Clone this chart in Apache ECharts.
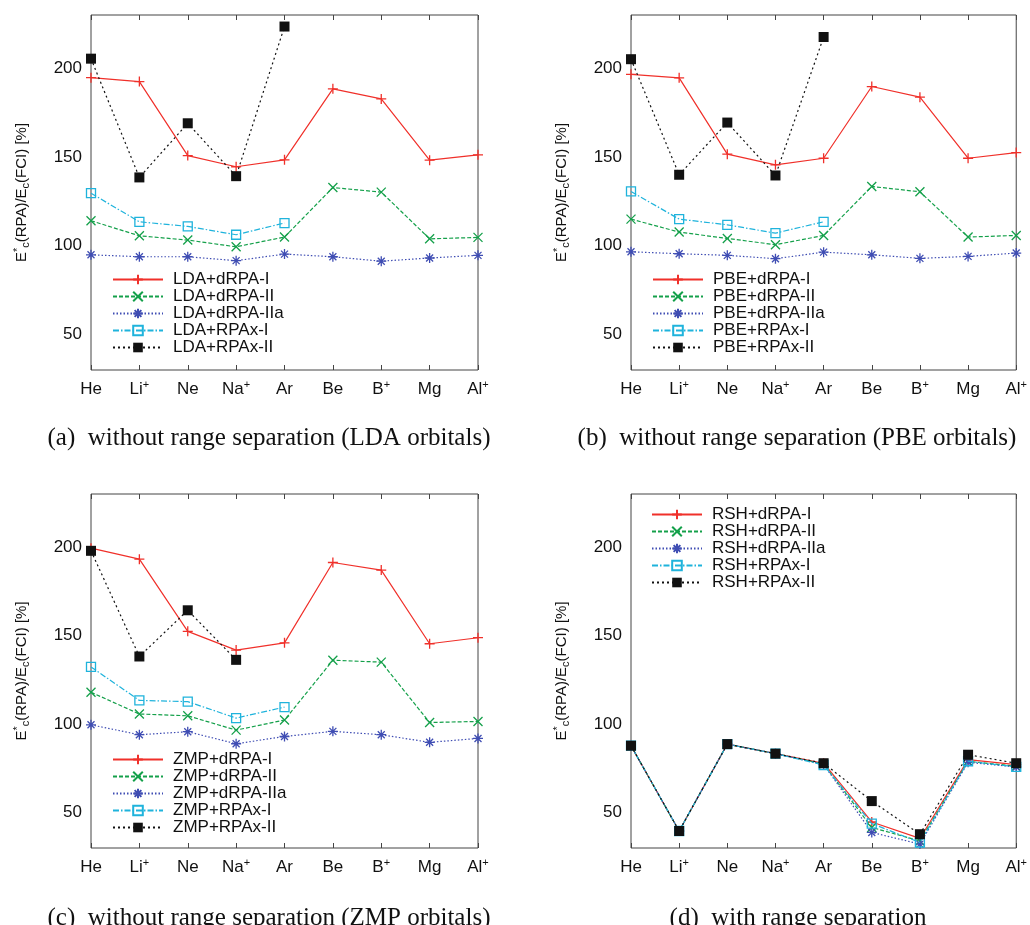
<!DOCTYPE html>
<html>
<head>
<meta charset="utf-8">
<script src="https://cdn.jsdelivr.net/npm/echarts@6/dist/echarts.min.js"></script>
<style>
  html, body { margin: 0; padding: 0; background: #fff; }
  #chart { width: 1030px; height: 925px; }
</style>
</head>
<body>
<div id="chart"></div>
<script>
  const categories = ['He', 'Li+', 'Ne', 'Na+', 'Ar', 'Be', 'B+', 'Mg', 'Al+']
  const yTicks = [50, 100, 150, 200]

  // (a) LDA orbitals
  const ldaDrpaI = [194.7, 192.5, 150.8, 144.5, 148.4, 188.4, 182.7, 148.2, 151.2]
  const ldaDrpaII = [114.1, 105.6, 103.2, 99.4, 104.9, 132.8, 130.2, 103.9, 104.7]
  const ldaDrpaIIa = [94.9, 93.8, 93.8, 91.6, 95.3, 93.8, 91.3, 93.1, 94.6]
  const ldaRpaxI = [129.6, 113.5, 110.9, 106.2, 112.8]
  const ldaRpaxII = [205.4, 138.5, 169.0, 139.2, 223.5]

  // (b) PBE orbitals
  const pbeDrpaI = [196.6, 194.6, 151.6, 145.6, 149.3, 189.7, 183.7, 149.3, 152.5]
  const pbeDrpaII = [115.0, 107.7, 104.1, 100.6, 105.8, 133.4, 130.4, 104.9, 105.8]
  const pbeDrpaIIa = [96.6, 95.5, 94.6, 92.7, 96.4, 94.9, 92.9, 94.0, 95.9]
  const pbeRpaxI = [130.6, 115.0, 111.8, 107.1, 113.5]
  const pbeRpaxII = [205.1, 140.0, 169.4, 139.6, 217.6]

  // (c) ZMP orbitals
  const zmpDrpaI = [199.4, 193.2, 152.4, 141.8, 145.9, 191.3, 187.0, 145.4, 148.8]
  const zmpDrpaII = [118.0, 105.7, 104.7, 96.6, 102.3, 136.1, 135.0, 100.9, 101.5]
  const zmpDrpaIIa = [99.6, 94.0, 95.7, 88.9, 93.0, 95.9, 94.0, 89.7, 91.9]
  const zmpRpaxI = [132.3, 113.4, 112.7, 103.4, 109.6]
  const zmpRpaxII = [197.9, 138.2, 164.3, 136.3]

  // (d) range separated
  const rshDrpaI = [87.8, 39.6, 88.7, 83.3, 77.9, 44.7, 35.4, 79.9, 77.1]
  const rshDrpaII = [87.8, 39.6, 88.7, 83.3, 77.4, 41.6, 34.0, 79.0, 76.2]
  const rshDrpaIIa = [87.8, 39.6, 88.7, 83.3, 77.2, 38.8, 32.2, 78.4, 75.8]
  const rshRpaxI = [87.8, 39.6, 88.7, 83.3, 76.9, 43.8, 33.1, 79.0, 75.8]
  const rshRpaxII = [87.8, 39.6, 88.7, 83.3, 77.9, 56.5, 37.8, 82.7, 77.9]

  const suffixes = ['+dRPA-I', '+dRPA-II', '+dRPA-IIa', '+RPAx-I', '+RPAx-II']

  const panels = [
    { prefix: 'LDA', data: [ldaDrpaI, ldaDrpaII, ldaDrpaIIa, ldaRpaxI, ldaRpaxII],
      caption: '(a)  without range separation (LDA orbitals)' },
    { prefix: 'PBE', data: [pbeDrpaI, pbeDrpaII, pbeDrpaIIa, pbeRpaxI, pbeRpaxII],
      caption: '(b)  without range separation (PBE orbitals)' },
    { prefix: 'ZMP', data: [zmpDrpaI, zmpDrpaII, zmpDrpaIIa, zmpRpaxI, zmpRpaxII],
      caption: '(c)  without range separation (ZMP orbitals)' },
    { prefix: 'RSH', data: [rshDrpaI, rshDrpaII, rshDrpaIIa, rshRpaxI, rshRpaxII],
      caption: '(d)  with range separation' }
  ]

  // layout in px
  const grids = [
    { left: 91, top: 15, width: 387, height: 355 },
    { left: 631, top: 15, width: 391, height: 355 },
    { left: 91, top: 494, width: 387, height: 354 },
    { left: 631, top: 494, width: 391, height: 354 }
  ]
  const legendPos = [
    { left: 112, top: 271 },
    { left: 652, top: 271 },
    { left: 112, top: 751 },
    { left: 651, top: 506 }
  ]
  const captionPos = [
    { left: 264, top: 421 },
    { left: 792, top: 421 },
    { left: 264, top: 901 },
    { left: 793, top: 901 }
  ]

  // gnuplot-like point types
  const PLUS = 'path://M5,0L5,10M0,5L10,5'
  const CROSS = 'path://M0,0L10,10M0,10L10,0'
  const STAR = 'path://M5,0L5,10M0,5L10,5M1.5,1.5L8.5,8.5M1.5,8.5L8.5,1.5'
  const SQUARE = 'path://M0,0L10,0L10,10L0,10Z'

  const styles = [
    { color: '#f0302a', type: 'solid', symbol: PLUS, size: 10 },
    { color: '#14a04a', type: [4, 2], symbol: CROSS, size: 9 },
    { color: '#3f4db3', type: [1.5, 2], symbol: STAR, size: 10 },
    { color: '#1fb3dc', type: [6, 2, 1.5, 2], symbol: SQUARE, size: 9 },
    { color: '#111111', type: [2, 3], symbol: 'rect', size: 10, filled: true }
  ]

  const frameColor = '#444'
  const sans = 'Liberation Sans'

  function catLabel(v) {
    return v.endsWith('+') ? '{b|' + v.slice(0, -1) + '}{sup|+}' : '{b|' + v + '}'
  }

  let grid = [], xAxis = [], yAxis = [], series = [], legend = [], title = []

  panels.forEach((p, i) => {
    grid.push(Object.assign({ show: true, borderColor: frameColor, borderWidth: 1 }, grids[i]))

    // bottom axis with labels, top mirror with ticks only
    xAxis.push({
      type: 'category', gridIndex: i, data: categories, boundaryGap: false, position: 'bottom',
      axisLine: { show: false },
      axisTick: { inside: true, length: 5, lineStyle: { color: frameColor } },
      splitLine: { show: false },
      axisLabel: {
        interval: 0, margin: 9, formatter: catLabel,
        rich: {
          b: { fontFamily: sans, fontSize: 17, color: '#111', lineHeight: 20 },
          sup: { fontFamily: sans, fontSize: 11, color: '#111', verticalAlign: 'top', lineHeight: 20, padding: [0, 0, 8, 0] }
        }
      }
    })
    xAxis.push({
      type: 'category', gridIndex: i, data: categories, boundaryGap: false, position: 'top',
      axisLine: { show: false },
      axisTick: { inside: true, length: 5, interval: 0, lineStyle: { color: frameColor } },
      axisLabel: { show: false, interval: 0 }, splitLine: { show: false }
    })

    yAxis.push({
      type: 'value', gridIndex: i, min: 30, max: 230, position: 'left',
      axisLine: { show: false },
      axisTick: { inside: true, length: 5, customValues: yTicks, lineStyle: { color: frameColor } },
      axisLabel: { customValues: yTicks, fontFamily: sans, fontSize: 17, color: '#111', margin: 9 },
      splitLine: { show: false },
      name: 'E{sup|*}{sub|c}(RPA)/E{sub|c}(FCI) [%]',
      nameLocation: 'middle', nameRotate: 90, nameGap: 60,
      nameTextStyle: {
        fontFamily: sans, fontSize: 15, color: '#111',
        rich: {
          sup: { fontFamily: sans, fontSize: 11, color: '#111', verticalAlign: 'top', padding: [0, 0, 8, 0] },
          sub: { fontFamily: sans, fontSize: 11, color: '#111', verticalAlign: 'bottom', padding: [6, 0, 0, 0] }
        }
      }
    })
    yAxis.push({
      type: 'value', gridIndex: i, min: 30, max: 230, position: 'right',
      axisLine: { show: false },
      axisTick: { inside: true, length: 5, customValues: yTicks, lineStyle: { color: frameColor } },
      axisLabel: { show: false, customValues: yTicks },
      splitLine: { show: false }
    })

    const names = suffixes.map(s => p.prefix + s)
    p.data.forEach((d, k) => {
      const st = styles[k]
      series.push({
        name: names[k], type: 'line', xAxisIndex: 2 * i, yAxisIndex: 2 * i,
        data: d,
        symbol: st.symbol, symbolSize: st.size, showAllSymbol: true,
        lineStyle: { color: st.color, width: 1.2, type: st.type },
        itemStyle: {
          color: st.filled ? st.color : 'rgba(0,0,0,0)',
          borderColor: st.color, borderWidth: st.filled ? 0 : 1.3
        },
        emphasis: { disabled: true },
        z: 2 + k
      })
    })

    legend.push({
      orient: 'vertical', left: legendPos[i].left, top: legendPos[i].top, padding: 0,
      data: names, itemWidth: 50, itemHeight: 12, itemGap: 0,
      selectedMode: false,
      textStyle: { fontFamily: sans, fontSize: 17, lineHeight: 17, color: '#111', padding: [0, 0, 0, 5] }
    })

    title.push({
      text: p.caption, left: captionPos[i].left, top: captionPos[i].top, textAlign: 'center',
      textStyle: { fontFamily: 'Liberation Serif', fontSize: 25, fontWeight: 'normal', color: '#111' }
    })
  })

  const chart = echarts.init(document.getElementById('chart'))
  chart.setOption({
    animation: false,
    backgroundColor: '#fff',
    title, grid, xAxis, yAxis, legend, series,
    tooltip: { show: false }
  })
</script>
</body>
</html>
